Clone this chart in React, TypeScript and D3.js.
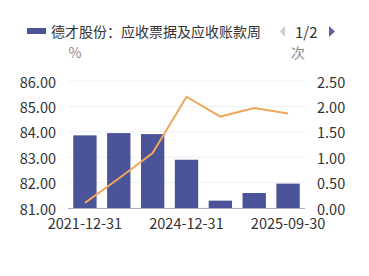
import React from "react";
import * as d3 from "d3";

const categories = ["2021-12-31", "2022-12-31", "2023-12-31", "2024-12-31", "2025-03-31", "2025-06-30", "2025-09-30"];
const barValues = [83.86, 83.95, 83.91, 82.9, 81.29, 81.59, 81.96];
const lineValues = [0.1, 0.58, 1.08, 2.19, 1.8, 1.97, 1.86];
const leftTicks = [81, 82, 83, 84, 85, 86];
const rightTicks = [0, 0.5, 1, 1.5, 2, 2.5];
const shownLabels = ["2021-12-31", "2024-12-31", "2025-09-30"];
const legendText = "德才股份：应收票据及应收账款周";

const W = 369, H = 276;
const left = 68, right = 305, top = 81, bottom = 208;
const FONT = "'Noto Sans CJK SC', 'Noto Sans', sans-serif";
const BAR = "#4b5499";
const LINE = "#f0a65a";

export default function App() {
  const x = d3.scaleBand<string>().domain(categories).range([left, right]).paddingInner(0.31).paddingOuter(0.155);
  const yL = d3.scaleLinear().domain([81, 86]).range([bottom, top]);
  const yR = d3.scaleLinear().domain([0, 2.5]).range([bottom, top]);
  const line = d3.line<number>()
    .x((_, i) => (x(categories[i]) as number) + x.bandwidth() / 2)
    .y((d) => yR(d));
  return (
    <svg width={W} height={H} style={{ position: "absolute", left: 0, top: 0, fontFamily: FONT }}>
      <rect x={0} y={0} width={W} height={H} fill="#fff" />
      {/* legend */}
      <rect x={27} y={28} width={19} height={6} fill={BAR} />
      <text x={51} y={31} fontSize={14} fill="#333" dominantBaseline="central">{legendText}</text>
      <path d="M285,26 L285,37 L280,31.5 Z" fill="#ccc" />
      <text x={295} y={31} fontSize={15} fill="#333" dominantBaseline="central">1/2</text>
      <path d="M329,26 L329,37 L335,31.5 Z" fill="#5c63a0" />
      <text x={75} y={52} fontSize={14} fill="#888" textAnchor="middle" dominantBaseline="central">%</text>
      <text x={298} y={52} fontSize={14} fill="#888" textAnchor="middle" dominantBaseline="central">次</text>
      {/* grid */}
      {leftTicks.map((t) => (
        <line key={"g" + t} x1={left} x2={right} y1={yL(t)} y2={yL(t)} stroke="#eef0f4" strokeWidth={1} />
      ))}
      {/* bars */}
      {barValues.map((v, i) => (
        <rect key={"b" + i} x={x(categories[i])} y={yL(v)} width={x.bandwidth()} height={bottom - yL(v)} fill={BAR} />
      ))}
      <line x1={left} x2={right} y1={bottom + 0.5} y2={bottom + 0.5} stroke="#aab0c8" strokeWidth={1} />
      <path d={line(lineValues) || ""} fill="none" stroke={LINE} strokeWidth={2} />
      {/* left axis */}
      {leftTicks.map((t) => (
        <text key={"l" + t} x={56} y={yL(t)} fontSize={14.5} fill="#333" textAnchor="end" dominantBaseline="central">{t.toFixed(2)}</text>
      ))}
      {rightTicks.map((t) => (
        <text key={"r" + t} x={317} y={yR(t)} fontSize={14.5} fill="#333" textAnchor="start" dominantBaseline="central">{t.toFixed(2)}</text>
      ))}
      {categories.map((c) =>
        shownLabels.includes(c) ? (
          <text key={"x" + c} x={(x(c) as number) + x.bandwidth() / 2} y={222} fontSize={14.5} fill="#333" textAnchor="middle" dominantBaseline="central">{c}</text>
        ) : null
      )}
    </svg>
  );
}
